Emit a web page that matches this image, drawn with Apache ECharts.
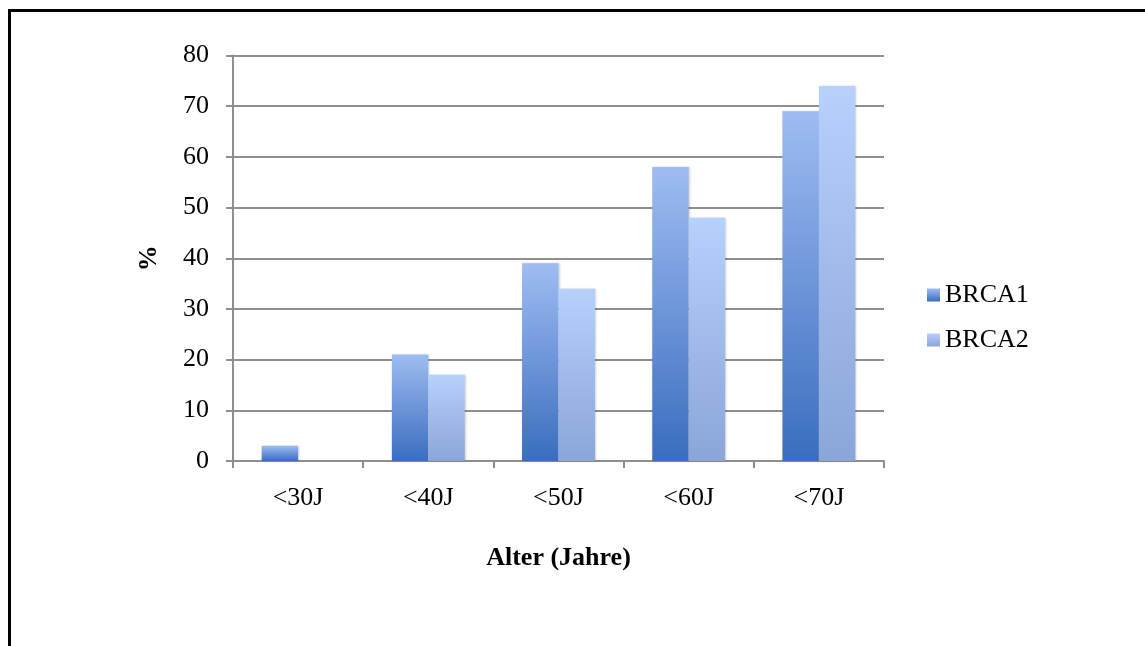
<!DOCTYPE html>
<html>
<head>
<meta charset="utf-8">
<script src="https://cdn.jsdelivr.net/npm/echarts@6/dist/echarts.min.js"></script>
<style>
  html, body { margin: 0; padding: 0; background: #fff; }
  #chart { width: 1145px; height: 646px; }
</style>
</head>
<body>
<div id="chart"></div>
<script>
// Altersgruppen und kumulatives Risiko (%) je Genmutation
const categories = ['<30J', '<40J', '<50J', '<60J', '<70J'];
const brca1 = [3, 21, 39, 58, 69];
const brca2 = [0, 17, 34, 48, 74];
const yTicks = { min: 0, max: 80, interval: 10 };

const FONT = '"Liberation Serif", "Times New Roman", serif';
const FS = 26;

function grad(top, bottom) {
  return new echarts.graphic.LinearGradient(0, 0, 0, 1, [
    { offset: 0, color: top },
    { offset: 1, color: bottom }
  ]);
}

const chart = echarts.init(document.getElementById('chart'), null, { renderer: 'canvas' });

chart.setOption({
  backgroundColor: '#ffffff',
  animation: false,
  graphic: [{
    type: 'rect',
    silent: true,
    shape: { x: 9.5, y: 10.5, width: 1400, height: 1000 },
    style: { fill: 'none', stroke: '#000', lineWidth: 3 }
  }],
  grid: { left: 233, top: 55.5, width: 651, height: 405.5, containLabel: false },
  legend: {
    orient: 'vertical',
    left: 927,
    top: 282,
    icon: 'rect',
    itemWidth: 13,
    itemHeight: 13,
    itemGap: 19,
    padding: 0,
    textStyle: { fontFamily: FONT, fontSize: FS, color: '#000', padding: [4, 0, 0, 0] },
    data: ['BRCA1', 'BRCA2']
  },
  xAxis: {
    type: 'category',
    data: categories,
    name: 'Alter (Jahre)',
    nameLocation: 'middle',
    nameGap: 84,
    nameTextStyle: { fontFamily: FONT, fontSize: FS, fontWeight: 'bold', color: '#000' },
    axisLine: { show: true, lineStyle: { color: '#8e8e8e', width: 2 } },
    axisTick: { show: true, alignWithLabel: false, length: 7, lineStyle: { color: '#8e8e8e', width: 2 } },
    axisLabel: { fontFamily: FONT, fontSize: FS, color: '#000', margin: 24 },
    splitLine: { show: false }
  },
  yAxis: {
    type: 'value',
    min: yTicks.min,
    max: yTicks.max,
    interval: yTicks.interval,
    name: '%',
    nameLocation: 'middle',
    nameGap: 71,
    nameRotate: 90,
    nameTextStyle: { fontFamily: FONT, fontSize: FS, fontWeight: 'bold', color: '#000' },
    axisLine: { show: true, lineStyle: { color: '#8e8e8e', width: 2 } },
    axisTick: { show: true, length: 7, lineStyle: { color: '#8e8e8e', width: 2 } },
    axisLabel: { fontFamily: FONT, fontSize: FS, color: '#000', margin: 24 },
    splitLine: { show: true, lineStyle: { color: '#8e8e8e', width: 2 } }
  },
  series: [
    {
      name: 'BRCA1',
      type: 'bar',
      data: brca1,
      barGap: '0%',
      barCategoryGap: '44%',
      itemStyle: {
        color: grad('#9fbcf2', '#3a6dbf'),
        shadowColor: 'rgba(0,0,0,0.18)',
        shadowBlur: 2,
        shadowOffsetX: 1
      }
    },
    {
      name: 'BRCA2',
      type: 'bar',
      data: brca2,
      barGap: '0%',
      barCategoryGap: '44%',
      itemStyle: {
        color: grad('#b6d1fc', '#8aa5d8'),
        shadowColor: 'rgba(0,0,0,0.18)',
        shadowBlur: 2,
        shadowOffsetX: 1
      }
    }
  ]
});
</script>
</body>
</html>
